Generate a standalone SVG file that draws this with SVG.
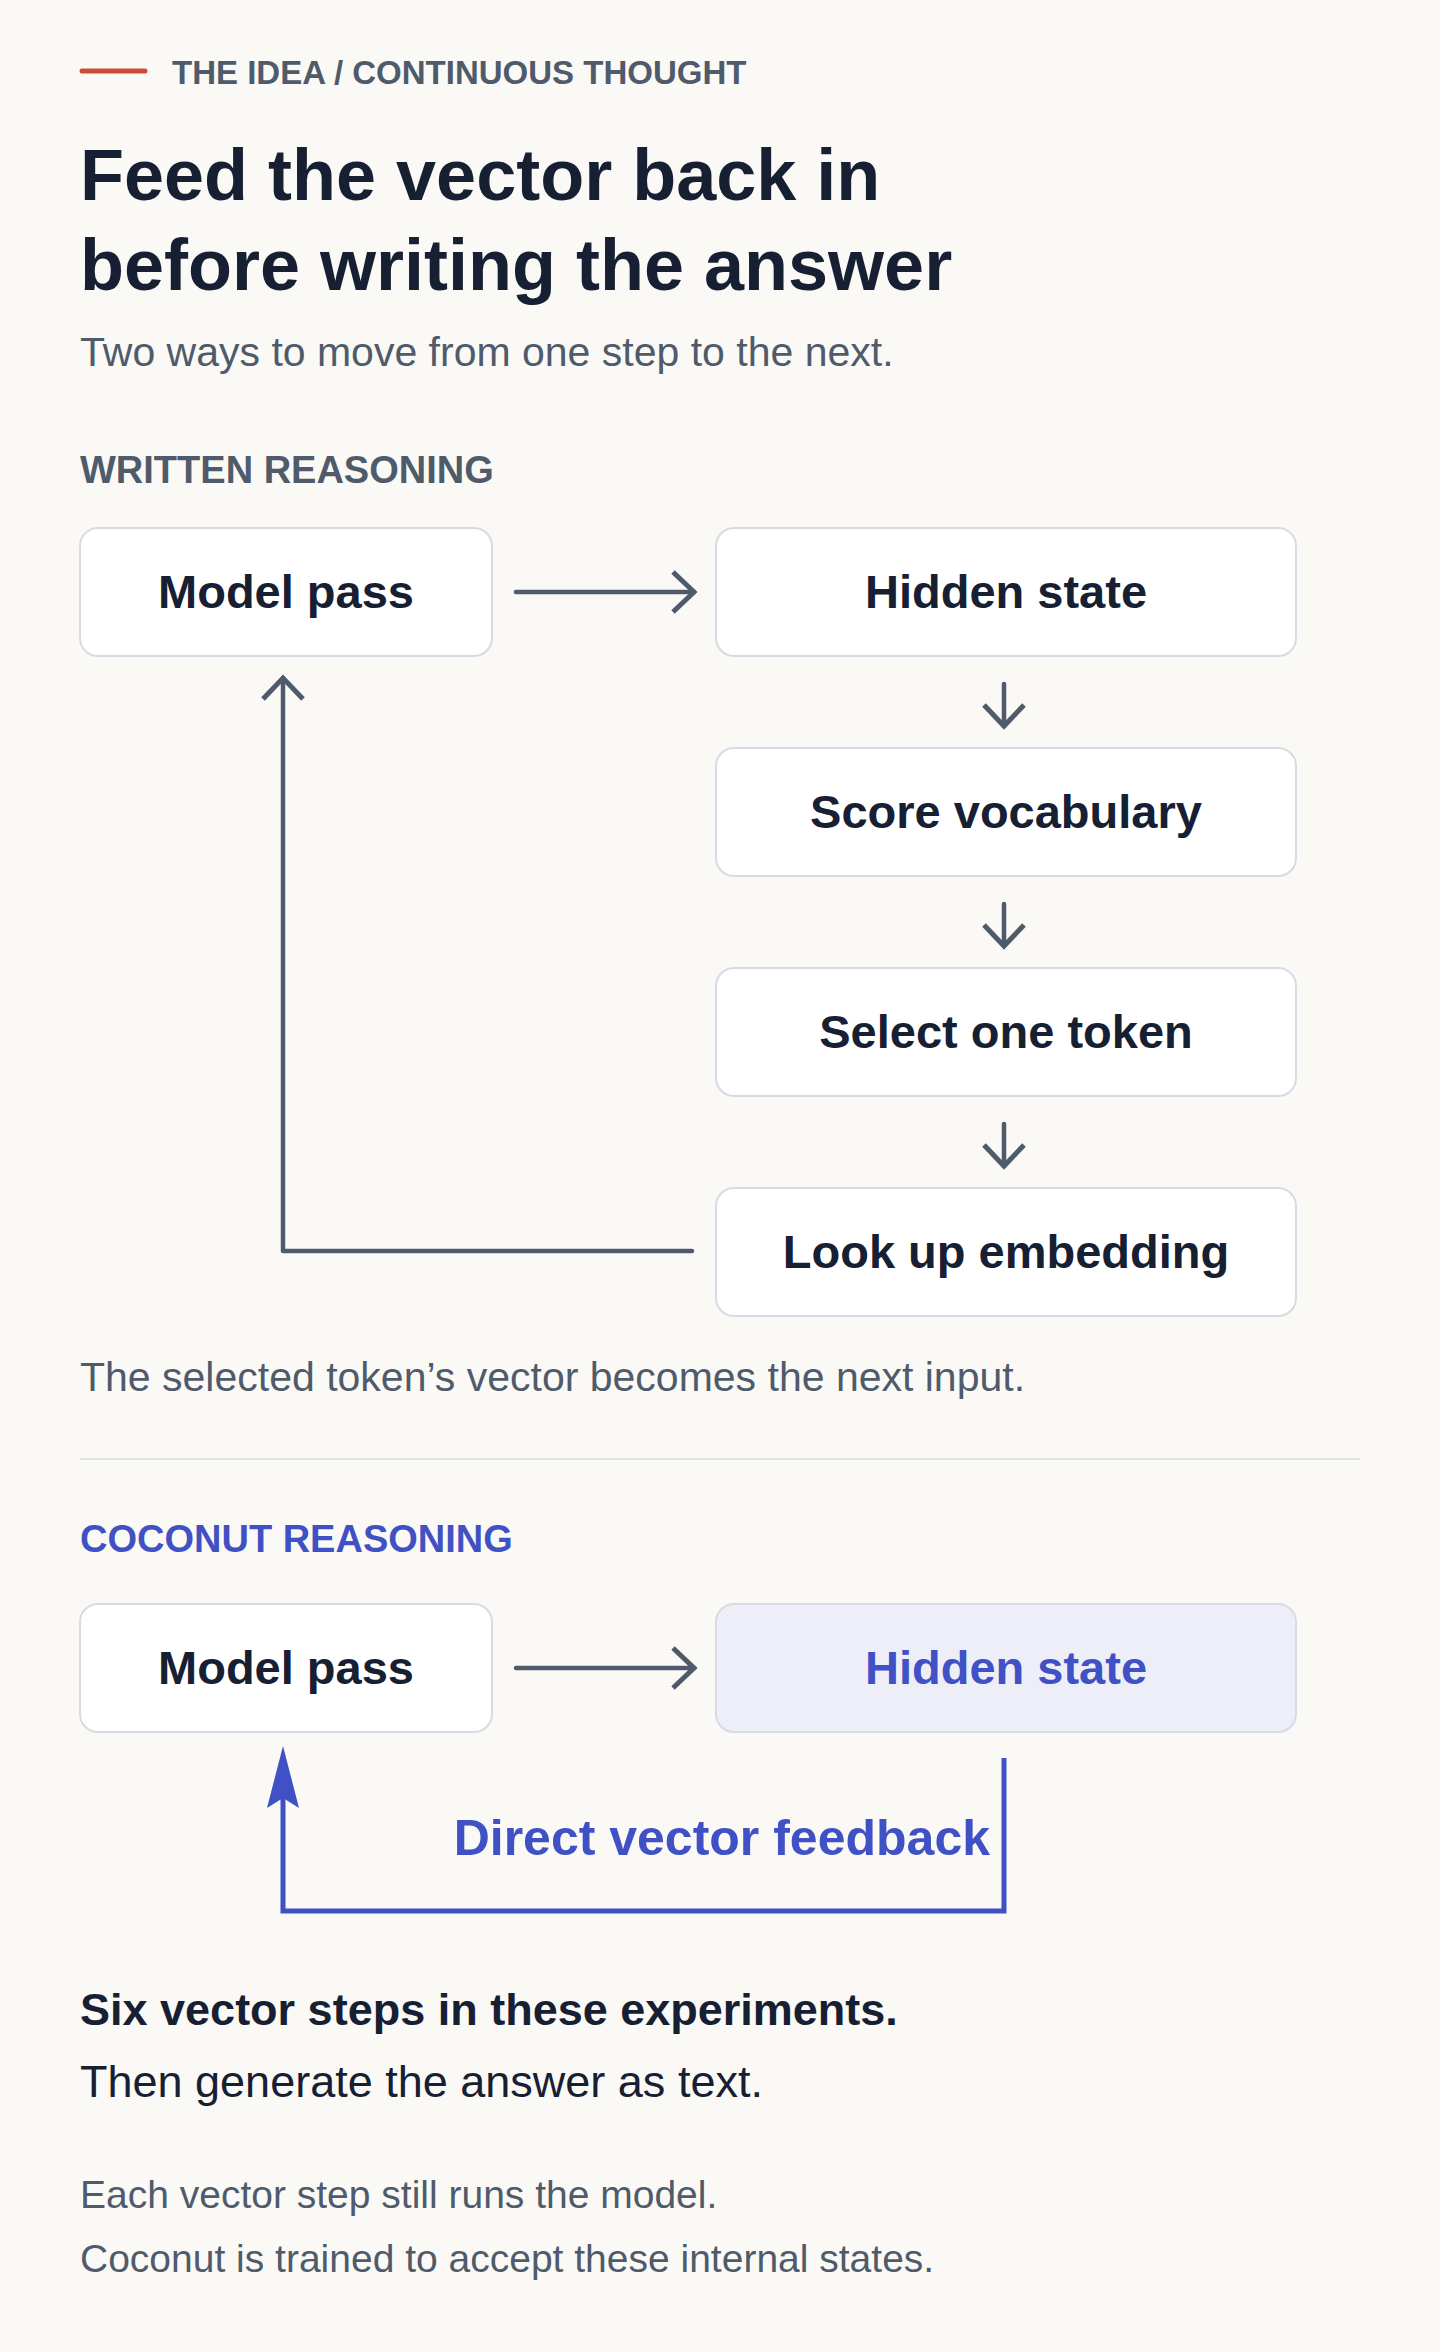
<svg xmlns="http://www.w3.org/2000/svg" width="1440" height="2352" viewBox="0 0 1440 2352">
<defs>
<style>
text{font-family:"Liberation Sans",Arial,sans-serif}
.box{fill:#ffffff;stroke:#d7dbe3;stroke-width:2}
.bt{font-size:47px;font-weight:bold;fill:#172033;text-anchor:middle}
.sec{font-size:38px;font-weight:bold;fill:#4f5b6b}
.cap{font-size:41px;fill:#4f5b6b}
.con{fill:none;stroke:#4f5b6b;stroke-width:4.5;stroke-linecap:round;stroke-linejoin:round}
.blue{fill:none;stroke:#3f51c4;stroke-width:5}
</style>
<marker id="chev" viewBox="0 0 20 20" refX="20" refY="10" markerWidth="20" markerHeight="20" markerUnits="userSpaceOnUse" orient="auto" overflow="visible">
<path d="M-1,-10 L20,10 L-1,30" fill="none" stroke="#4f5b6b" stroke-width="5" stroke-linecap="butt"/>
</marker>
</defs>
<rect width="1440" height="2352" fill="#faf9f6"/>
<line x1="82" y1="71" x2="145" y2="71" stroke="#cc4b3a" stroke-width="5" stroke-linecap="round"/>
<text x="172" y="84" font-size="33" font-weight="bold" fill="#4f5b6b">THE IDEA / CONTINUOUS THOUGHT</text>
<text x="80" y="200" font-size="72" font-weight="bold" fill="#172033">Feed the vector back in</text>
<text x="80" y="290" font-size="72" font-weight="bold" fill="#172033">before writing the answer</text>
<text x="80" y="366" font-size="41" fill="#4f5b6b">Two ways to move from one step to the next.</text>
<text x="80" y="483" class="sec">WRITTEN REASONING</text>

<g id="w-model"><rect class="box" x="80" y="528" width="412" height="128" rx="18"/><text class="bt" x="286" y="608">Model pass</text></g>
<g id="w-hidden"><rect class="box" x="716" y="528" width="580" height="128" rx="18"/><text class="bt" x="1006" y="608">Hidden state</text></g>
<g id="w-score"><rect class="box" x="716" y="748" width="580" height="128" rx="18"/><text class="bt" x="1006" y="828">Score vocabulary</text></g>
<g id="w-select"><rect class="box" x="716" y="968" width="580" height="128" rx="18"/><text class="bt" x="1006" y="1048">Select one token</text></g>
<g id="w-lookup"><rect class="box" x="716" y="1188" width="580" height="128" rx="18"/><text class="bt" x="1006" y="1268">Look up embedding</text></g>

<g id="connectors">
<line class="con" x1="516" y1="592" x2="694" y2="592" marker-end="url(#chev)"/>
<line class="con" x1="1004" y1="684" x2="1004" y2="726" marker-end="url(#chev)"/>
<line class="con" x1="1004" y1="904" x2="1004" y2="946" marker-end="url(#chev)"/>
<line class="con" x1="1004" y1="1124" x2="1004" y2="1166" marker-end="url(#chev)"/>
<polyline class="con" points="692,1251 283,1251 283,678" marker-end="url(#chev)"/>
<line class="con" x1="516" y1="1668" x2="694" y2="1668" marker-end="url(#chev)"/>
<polyline class="blue" points="1004,1758 1004,1911 283,1911 283,1790"/>
<polygon points="283,1746 267,1808 283,1798 299,1808" fill="#3f51c4"/>
</g>

<text x="80" y="1391" class="cap">The selected token’s vector becomes the next input.</text>
<line x1="80" y1="1459" x2="1360" y2="1459" stroke="#e2e2e2" stroke-width="2"/>
<text x="80" y="1552" class="sec" style="fill:#3f51c4">COCONUT REASONING</text>

<g id="c-model"><rect class="box" x="80" y="1604" width="412" height="128" rx="18"/><text class="bt" x="286" y="1684">Model pass</text></g>
<g id="c-hidden"><rect class="box" style="fill:#eeeef9" x="716" y="1604" width="580" height="128" rx="18"/><text class="bt" style="fill:#3f51c4" x="1006" y="1684">Hidden state</text></g>
<text x="990" y="1855" font-size="50" font-weight="bold" fill="#3f51c4" text-anchor="end">Direct vector feedback</text>

<text x="80" y="2025" font-size="45" font-weight="bold" fill="#172033">Six vector steps in these experiments.</text>
<text x="80" y="2097" font-size="45" fill="#172033">Then generate the answer as text.</text>
<text x="80" y="2208" font-size="39" fill="#4f5b6b">Each vector step still runs the model.</text>
<text x="80" y="2272" font-size="39" fill="#4f5b6b">Coconut is trained to accept these internal states.</text>
</svg>
